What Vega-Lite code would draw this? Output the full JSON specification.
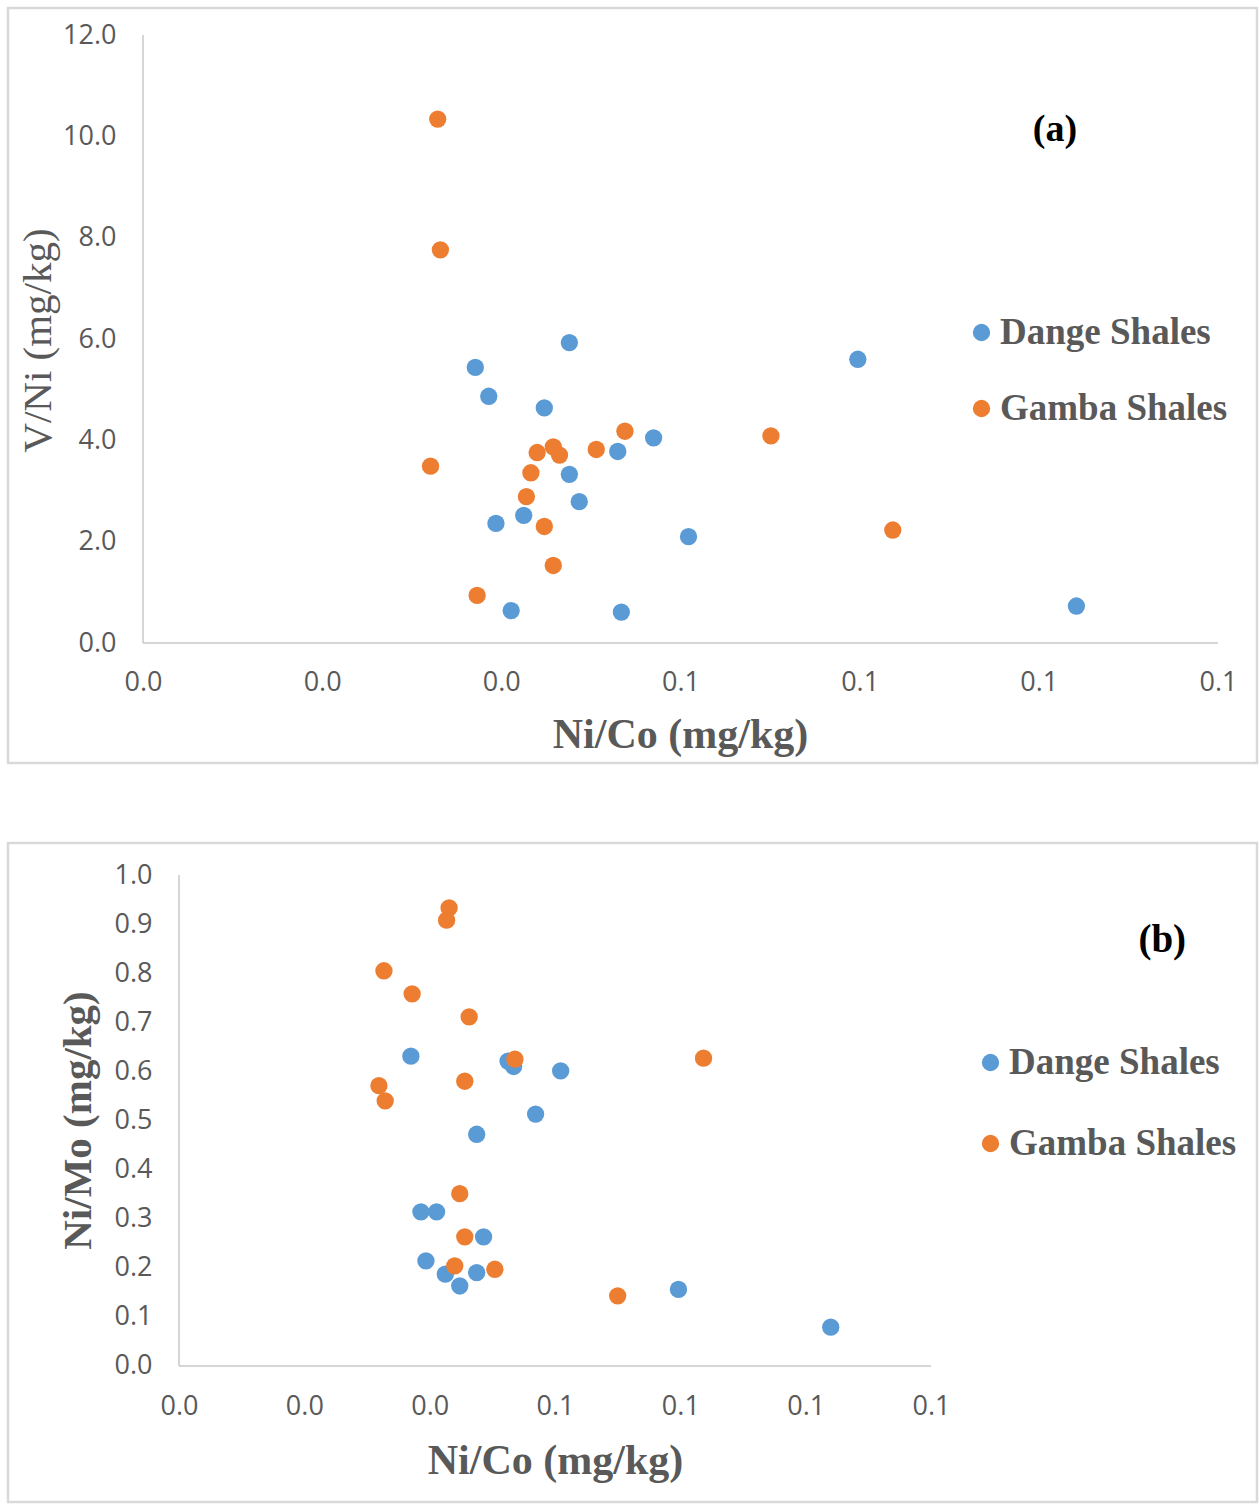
{
  "$schema": "https://vega.github.io/schema/vega-lite/v6.json",
  "padding": {"left": 6, "top": 6, "right": 2, "bottom": 2},
  "background": "white",
  "config": {
    "view": {"stroke": "#d9d9d9", "strokeWidth": 2.5},
    "concat": {"spacing": 76}
  },
  "datasets": {
    "a": [
      {"group": "Dange Shales", "NiCo": 0.0476, "VNi": 5.93},
      {"group": "Dange Shales", "NiCo": 0.0798, "VNi": 5.60},
      {"group": "Dange Shales", "NiCo": 0.0371, "VNi": 5.44},
      {"group": "Dange Shales", "NiCo": 0.0386, "VNi": 4.87},
      {"group": "Dange Shales", "NiCo": 0.0448, "VNi": 4.64},
      {"group": "Dange Shales", "NiCo": 0.0570, "VNi": 4.05},
      {"group": "Dange Shales", "NiCo": 0.0530, "VNi": 3.78},
      {"group": "Dange Shales", "NiCo": 0.0476, "VNi": 3.33},
      {"group": "Dange Shales", "NiCo": 0.0487, "VNi": 2.79},
      {"group": "Dange Shales", "NiCo": 0.0425, "VNi": 2.52},
      {"group": "Dange Shales", "NiCo": 0.0394, "VNi": 2.36},
      {"group": "Dange Shales", "NiCo": 0.0609, "VNi": 2.10},
      {"group": "Dange Shales", "NiCo": 0.0411, "VNi": 0.64},
      {"group": "Dange Shales", "NiCo": 0.0534, "VNi": 0.61},
      {"group": "Dange Shales", "NiCo": 0.1042, "VNi": 0.73},
      {"group": "Gamba Shales", "NiCo": 0.0329, "VNi": 10.34},
      {"group": "Gamba Shales", "NiCo": 0.0332, "VNi": 7.76},
      {"group": "Gamba Shales", "NiCo": 0.0321, "VNi": 3.49},
      {"group": "Gamba Shales", "NiCo": 0.0538, "VNi": 4.18},
      {"group": "Gamba Shales", "NiCo": 0.0701, "VNi": 4.09},
      {"group": "Gamba Shales", "NiCo": 0.0506, "VNi": 3.82},
      {"group": "Gamba Shales", "NiCo": 0.0458, "VNi": 3.87},
      {"group": "Gamba Shales", "NiCo": 0.0440, "VNi": 3.76},
      {"group": "Gamba Shales", "NiCo": 0.0465, "VNi": 3.71},
      {"group": "Gamba Shales", "NiCo": 0.0433, "VNi": 3.36},
      {"group": "Gamba Shales", "NiCo": 0.0428, "VNi": 2.89},
      {"group": "Gamba Shales", "NiCo": 0.0448, "VNi": 2.30},
      {"group": "Gamba Shales", "NiCo": 0.0837, "VNi": 2.23},
      {"group": "Gamba Shales", "NiCo": 0.0458, "VNi": 1.53},
      {"group": "Gamba Shales", "NiCo": 0.0373, "VNi": 0.94}
    ],
    "b": [
      {"group": "Dange Shales", "NiCo": 0.0370, "NiMo": 0.631},
      {"group": "Dange Shales", "NiCo": 0.0525, "NiMo": 0.621},
      {"group": "Dange Shales", "NiCo": 0.0534, "NiMo": 0.610},
      {"group": "Dange Shales", "NiCo": 0.0609, "NiMo": 0.601},
      {"group": "Dange Shales", "NiCo": 0.0569, "NiMo": 0.513},
      {"group": "Dange Shales", "NiCo": 0.0475, "NiMo": 0.472},
      {"group": "Dange Shales", "NiCo": 0.0386, "NiMo": 0.314},
      {"group": "Dange Shales", "NiCo": 0.0411, "NiMo": 0.314},
      {"group": "Dange Shales", "NiCo": 0.0486, "NiMo": 0.263},
      {"group": "Dange Shales", "NiCo": 0.0394, "NiMo": 0.214},
      {"group": "Dange Shales", "NiCo": 0.0425, "NiMo": 0.187},
      {"group": "Dange Shales", "NiCo": 0.0448, "NiMo": 0.163},
      {"group": "Dange Shales", "NiCo": 0.0475, "NiMo": 0.190},
      {"group": "Dange Shales", "NiCo": 0.0797, "NiMo": 0.156},
      {"group": "Dange Shales", "NiCo": 0.1040, "NiMo": 0.079},
      {"group": "Gamba Shales", "NiCo": 0.0431, "NiMo": 0.933},
      {"group": "Gamba Shales", "NiCo": 0.0427, "NiMo": 0.908},
      {"group": "Gamba Shales", "NiCo": 0.0327, "NiMo": 0.805},
      {"group": "Gamba Shales", "NiCo": 0.0372, "NiMo": 0.758},
      {"group": "Gamba Shales", "NiCo": 0.0463, "NiMo": 0.711},
      {"group": "Gamba Shales", "NiCo": 0.0319, "NiMo": 0.571},
      {"group": "Gamba Shales", "NiCo": 0.0329, "NiMo": 0.540},
      {"group": "Gamba Shales", "NiCo": 0.0456, "NiMo": 0.580},
      {"group": "Gamba Shales", "NiCo": 0.0536, "NiMo": 0.625},
      {"group": "Gamba Shales", "NiCo": 0.0837, "NiMo": 0.627},
      {"group": "Gamba Shales", "NiCo": 0.0448, "NiMo": 0.351},
      {"group": "Gamba Shales", "NiCo": 0.0456, "NiMo": 0.263},
      {"group": "Gamba Shales", "NiCo": 0.0440, "NiMo": 0.204},
      {"group": "Gamba Shales", "NiCo": 0.0504, "NiMo": 0.197},
      {"group": "Gamba Shales", "NiCo": 0.0700, "NiMo": 0.143}
    ]
  },
  "resolve": {
    "scale": {"color": "independent", "x": "independent", "y": "independent"},
    "legend": {"color": "independent"}
  },
  "vconcat": [
    {
      "width": 1249,
      "height": 755,
      "layer": [
        {
          "data": {"values": [{}]},
          "mark": {"type": "rule", "color": "#c8c8c8", "strokeWidth": 1.5},
          "encoding": {
            "x": {"datum": 0, "type": "quantitative"},
            "x2": {"datum": 0.12},
            "y": {"datum": 0, "type": "quantitative"}
          }
        },
        {
          "data": {"values": [{}]},
          "mark": {"type": "rule", "color": "#c8c8c8", "strokeWidth": 1.5},
          "encoding": {
            "x": {"datum": 0, "type": "quantitative"},
            "y": {"datum": 0, "type": "quantitative"},
            "y2": {"datum": 12}
          }
        },
        {
          "data": {"name": "a"},
          "mark": {"type": "circle", "size": 300, "opacity": 1},
          "encoding": {
            "x": {
              "field": "NiCo", "type": "quantitative",
              "scale": {"domain": [-0.01507, 0.12436], "nice": false, "zero": false},
              "axis": {
                "values": [0, 0.02, 0.04, 0.06, 0.08, 0.1, 0.12], "format": ".1f",
                "offset": -120, "domain": false, "ticks": false, "tickSize": 0, "grid": false,
                "labelFont": "Open Sans", "labelFontSize": 27, "labelColor": "#595959", "labelPadding": 26,
                "title": "Ni/Co (mg/kg)", "titleFont": "Liberation Serif", "titleFontSize": 42,
                "titleFontWeight": "bold", "titleColor": "#595959",
                "titleX": 672, "titleY": 91, "titleBaseline": "middle", "titleAlign": "center"
              }
            },
            "y": {
              "field": "VNi", "type": "quantitative",
              "scale": {"domain": [-2.368, 12.533], "nice": false, "zero": false},
              "axis": {
                "values": [0, 2, 4, 6, 8, 10, 12], "format": ".1f",
                "offset": -135, "domain": false, "ticks": false, "tickSize": 0, "grid": false,
                "labelFont": "Open Sans", "labelFontSize": 27, "labelColor": "#595959", "labelPadding": 27,
                "title": "V/Ni (mg/kg)", "titleFont": "Liberation Serif", "titleFontSize": 41,
                "titleFontWeight": "normal", "titleColor": "#595959",
                "titleX": -105, "titleY": 332, "titleBaseline": "middle", "titleAlign": "center", "titleAngle": 270
              }
            },
            "color": {
              "field": "group", "type": "nominal",
              "scale": {"domain": ["Dange Shales", "Gamba Shales"], "range": ["#5b9bd5", "#ed7d31"]},
              "legend": {
                "orient": "none", "legendX": 955, "legendY": 306, "title": null, "padding": 0,
                "labelFont": "Liberation Serif", "labelFontSize": 37, "labelFontWeight": "bold",
                "labelColor": "#595959", "labelLimit": 400, "labelOffset": 0,
                "symbolType": "circle", "symbolSize": 300, "symbolOpacity": 1, "rowPadding": 38
              }
            }
          }
        },
        {
          "data": {"values": [{}]},
          "mark": {"type": "text", "text": "(a)", "font": "Liberation Serif", "fontSize": 38, "fontWeight": "bold", "color": "#000000", "align": "center", "baseline": "middle"},
          "encoding": {
            "x": {"datum": 0.1018, "type": "quantitative"},
            "y": {"datum": 10.125, "type": "quantitative"}
          }
        }
      ]
    },
    {
      "width": 1249,
      "height": 659,
      "layer": [
        {
          "data": {"values": [{}]},
          "mark": {"type": "rule", "color": "#c8c8c8", "strokeWidth": 1.5},
          "encoding": {
            "x": {"datum": 0, "type": "quantitative"},
            "x2": {"datum": 0.12},
            "y": {"datum": 0, "type": "quantitative"}
          }
        },
        {
          "data": {"values": [{}]},
          "mark": {"type": "rule", "color": "#c8c8c8", "strokeWidth": 1.5},
          "encoding": {
            "x": {"datum": 0, "type": "quantitative"},
            "y": {"datum": 0, "type": "quantitative"},
            "y2": {"datum": 1.0}
          }
        },
        {
          "data": {"name": "b"},
          "mark": {"type": "circle", "size": 300, "opacity": 1},
          "encoding": {
            "x": {
              "field": "NiCo", "type": "quantitative",
              "scale": {"domain": [-0.02729, 0.17202], "nice": false, "zero": false},
              "axis": {
                "values": [0, 0.02, 0.04, 0.06, 0.08, 0.1, 0.12], "format": ".1f",
                "offset": -136, "domain": false, "ticks": false, "tickSize": 0, "grid": false,
                "labelFont": "Open Sans", "labelFontSize": 27, "labelColor": "#595959", "labelPadding": 27,
                "title": "Ni/Co (mg/kg)", "titleFont": "Liberation Serif", "titleFontSize": 42,
                "titleFontWeight": "bold", "titleColor": "#595959",
                "titleX": 547, "titleY": 94, "titleBaseline": "middle", "titleAlign": "center"
              }
            },
            "y": {
              "field": "NiMo", "type": "quantitative",
              "scale": {"domain": [-0.277, 1.0652], "nice": false, "zero": false},
              "axis": {
                "values": [0, 0.1, 0.2, 0.3, 0.4, 0.5, 0.6, 0.7, 0.8, 0.9, 1.0], "format": ".1f",
                "offset": -171, "domain": false, "ticks": false, "tickSize": 0, "grid": false,
                "labelFont": "Open Sans", "labelFontSize": 27, "labelColor": "#595959", "labelPadding": 27,
                "title": "Ni/Mo (mg/kg)", "titleFont": "Liberation Serif", "titleFontSize": 41,
                "titleFontWeight": "bold", "titleColor": "#595959",
                "titleX": -101, "titleY": 277, "titleBaseline": "middle", "titleAlign": "center", "titleAngle": 270
              }
            },
            "color": {
              "field": "group", "type": "nominal",
              "scale": {"domain": ["Dange Shales", "Gamba Shales"], "range": ["#5b9bd5", "#ed7d31"]},
              "legend": {
                "orient": "none", "legendX": 964, "legendY": 201, "title": null, "padding": 0,
                "labelFont": "Liberation Serif", "labelFontSize": 37, "labelFontWeight": "bold",
                "labelColor": "#595959", "labelLimit": 400, "labelOffset": 0,
                "symbolType": "circle", "symbolSize": 300, "symbolOpacity": 1, "rowPadding": 43
              }
            }
          }
        },
        {
          "data": {"values": [{}]},
          "mark": {"type": "text", "text": "(b)", "font": "Liberation Serif", "fontSize": 39, "fontWeight": "bold", "color": "#000000", "align": "center", "baseline": "middle"},
          "encoding": {
            "x": {"datum": 0.1569, "type": "quantitative"},
            "y": {"datum": 0.8676, "type": "quantitative"}
          }
        }
      ]
    }
  ]
}
